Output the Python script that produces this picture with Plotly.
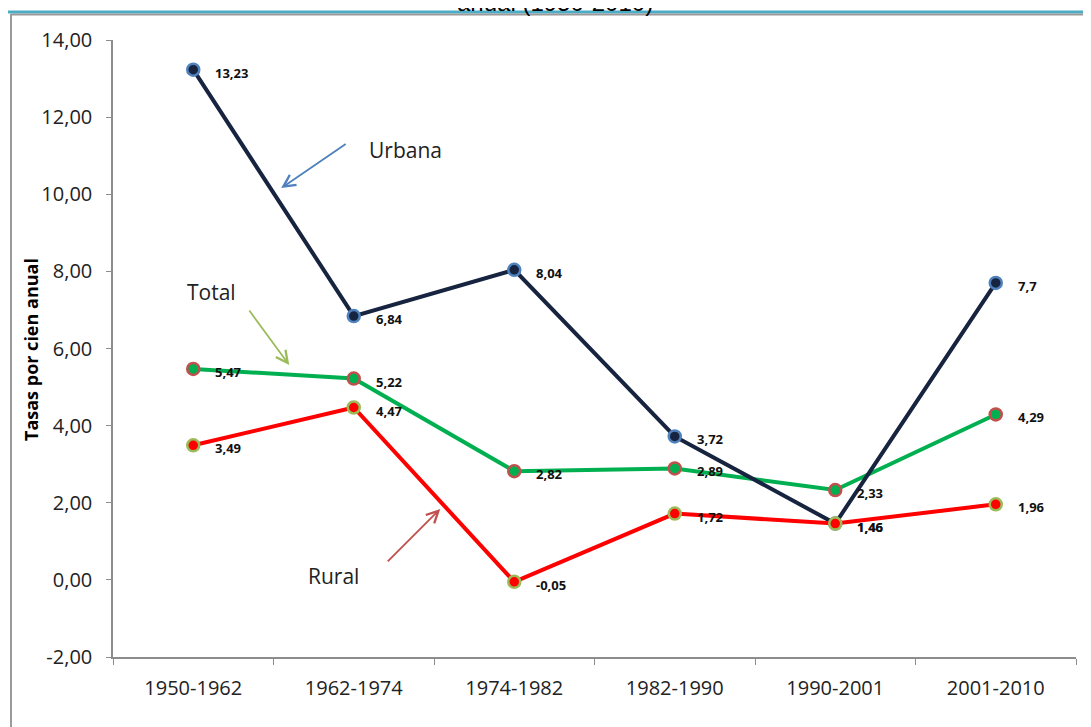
import plotly.graph_objects as go

categories = ["1950-1962", "1962-1974", "1974-1982", "1982-1990", "1990-2001", "2001-2010"]
urbana = [13.23, 6.84, 8.04, 3.72, 1.46, 7.7]
total = [5.47, 5.22, 2.82, 2.89, 2.33, 4.29]
rural = [3.49, 4.47, -0.05, 1.72, 1.46, 1.96]
ytick_vals = [-2, 0, 2, 4, 6, 8, 10, 12, 14]
ytick_labels = ["-2,00", "0,00", "2,00", "4,00", "6,00", "8,00", "10,00", "12,00", "14,00"]

W, H = 1091, 727          # page size
OFF = 8                   # page body margin
FW, FH = W - OFF, H - OFF
PL, PR, PT, PB = 113, 1076, 40, 657   # plot area in page pixels
PW, PH = PR - PL, PB - PT


def px(x):
    return (x - PL) / PW


def py(y):
    return (PB - y) / PH


def fmt(v):
    s = "%.2f" % v
    s = s.rstrip("0").rstrip(".") if s.endswith("0") else s
    return s.replace(".", ",")


fig = go.Figure()
series = [
    ("Total", total, "#00B050", "#00B050", "#C0504D"),
    ("Urbana", urbana, "#17243F", "#17243F", "#4F81BD"),
    ("Rural", rural, "#FF0000", "#FF0000", "#9BBB59"),
]
for name, vals, lc, mfill, mline in series:
    fig.add_trace(go.Scatter(
        x=categories, y=vals, mode="lines+markers", name=name,
        line=dict(color=lc, width=4),
        marker=dict(size=12, color=mfill, line=dict(color=mline, width=2.5)),
        showlegend=False, cliponaxis=False,
    ))

annotations = []
for name, vals, lc, mfill, mline in series:
    for i, v in enumerate(vals):
        annotations.append(dict(
            x=i, y=v, xref="x", yref="y", text=fmt(v), showarrow=False,
            xanchor="left", yanchor="middle", xshift=20, yshift=-3,
            font=dict(family="Open Sans", size=13, color="#111111", weight="bold"),
        ))

# callout labels with arrows
callouts = [
    ("Urbana", 1.321, 11.15, 0.548, 10.16, 66, -45, "#4F81BD"),
    ("Total", 0.112, 7.47, 0.598, 5.57, -41, -56, "#9BBB59"),
    ("Rural", 0.876, 0.10, 1.539, 1.84, -54, 54, "#C0504D"),
]
for text, tx, ty, hx, hy, ax, ay, col in callouts:
    annotations.append(dict(
        x=tx, y=ty, xref="x", yref="y", text=text, showarrow=False,
        font=dict(family="Open Sans", size=21, color="#222222"),
    ))
    annotations.append(dict(
        x=hx, y=hy, xref="x", yref="y", ax=ax, ay=ay, text="", showarrow=True,
        arrowhead=5, arrowsize=1.3, arrowwidth=1.8, arrowcolor=col,
    ))

annotations.append(dict(
    x=px(31), y=py(350), xref="paper", yref="paper", text="Tasas por cien anual",
    textangle=-90, showarrow=False, xanchor="center", yanchor="middle",
    font=dict(family="Open Sans", size=18, color="#000000", weight="bold"),
))
annotations.append(dict(
    x=px(555), y=py(17), xref="paper", yref="paper", text="anual (1950-2010)",
    showarrow=False, xanchor="center", yanchor="bottom", borderpad=0,
    font=dict(family="Liberation Sans", size=24, color="#000000"),
))

shapes = [
    dict(type="line", xref="paper", yref="paper", x0=px(OFF), x1=px(W), y0=py(12), y1=py(12),
         line=dict(color="#4BACC6", width=3)),
    dict(type="line", xref="paper", yref="paper", x0=px(11), x1=px(W), y0=py(14.5), y1=py(14.5),
         line=dict(color="#9A9A9A", width=2)),
    dict(type="line", xref="paper", yref="paper", x0=px(11), x1=px(11), y0=py(14), y1=py(H),
         line=dict(color="#9A9A9A", width=2)),
]

fig.update_layout(
    width=FW, height=FH,
    margin=dict(l=PL - OFF, r=W - PR, t=PT - OFF, b=H - PB),
    paper_bgcolor="white", plot_bgcolor="white",
    annotations=annotations, shapes=shapes,
    xaxis=dict(
        type="category", range=[-0.5, 5.5], showgrid=False, zeroline=False,
        showline=True, linecolor="#8C8C8C", linewidth=1.5,
        ticks="outside", tickson="boundaries", ticklen=6, tickcolor="#8C8C8C",
        ticklabelstandoff=12,
        tickfont=dict(family="Open Sans", size=20, color="#222222"),
    ),
    yaxis=dict(
        range=[-2, 14], tickmode="array", tickvals=ytick_vals, ticktext=ytick_labels,
        showgrid=False, zeroline=False,
        showline=True, linecolor="#8C8C8C", linewidth=1.5,
        ticks="outside", ticklen=5, tickcolor="#8C8C8C",
        ticklabelstandoff=10,
        tickfont=dict(family="Open Sans", size=20, color="#222222"),
    ),
)

fig.write_html("out.html")
